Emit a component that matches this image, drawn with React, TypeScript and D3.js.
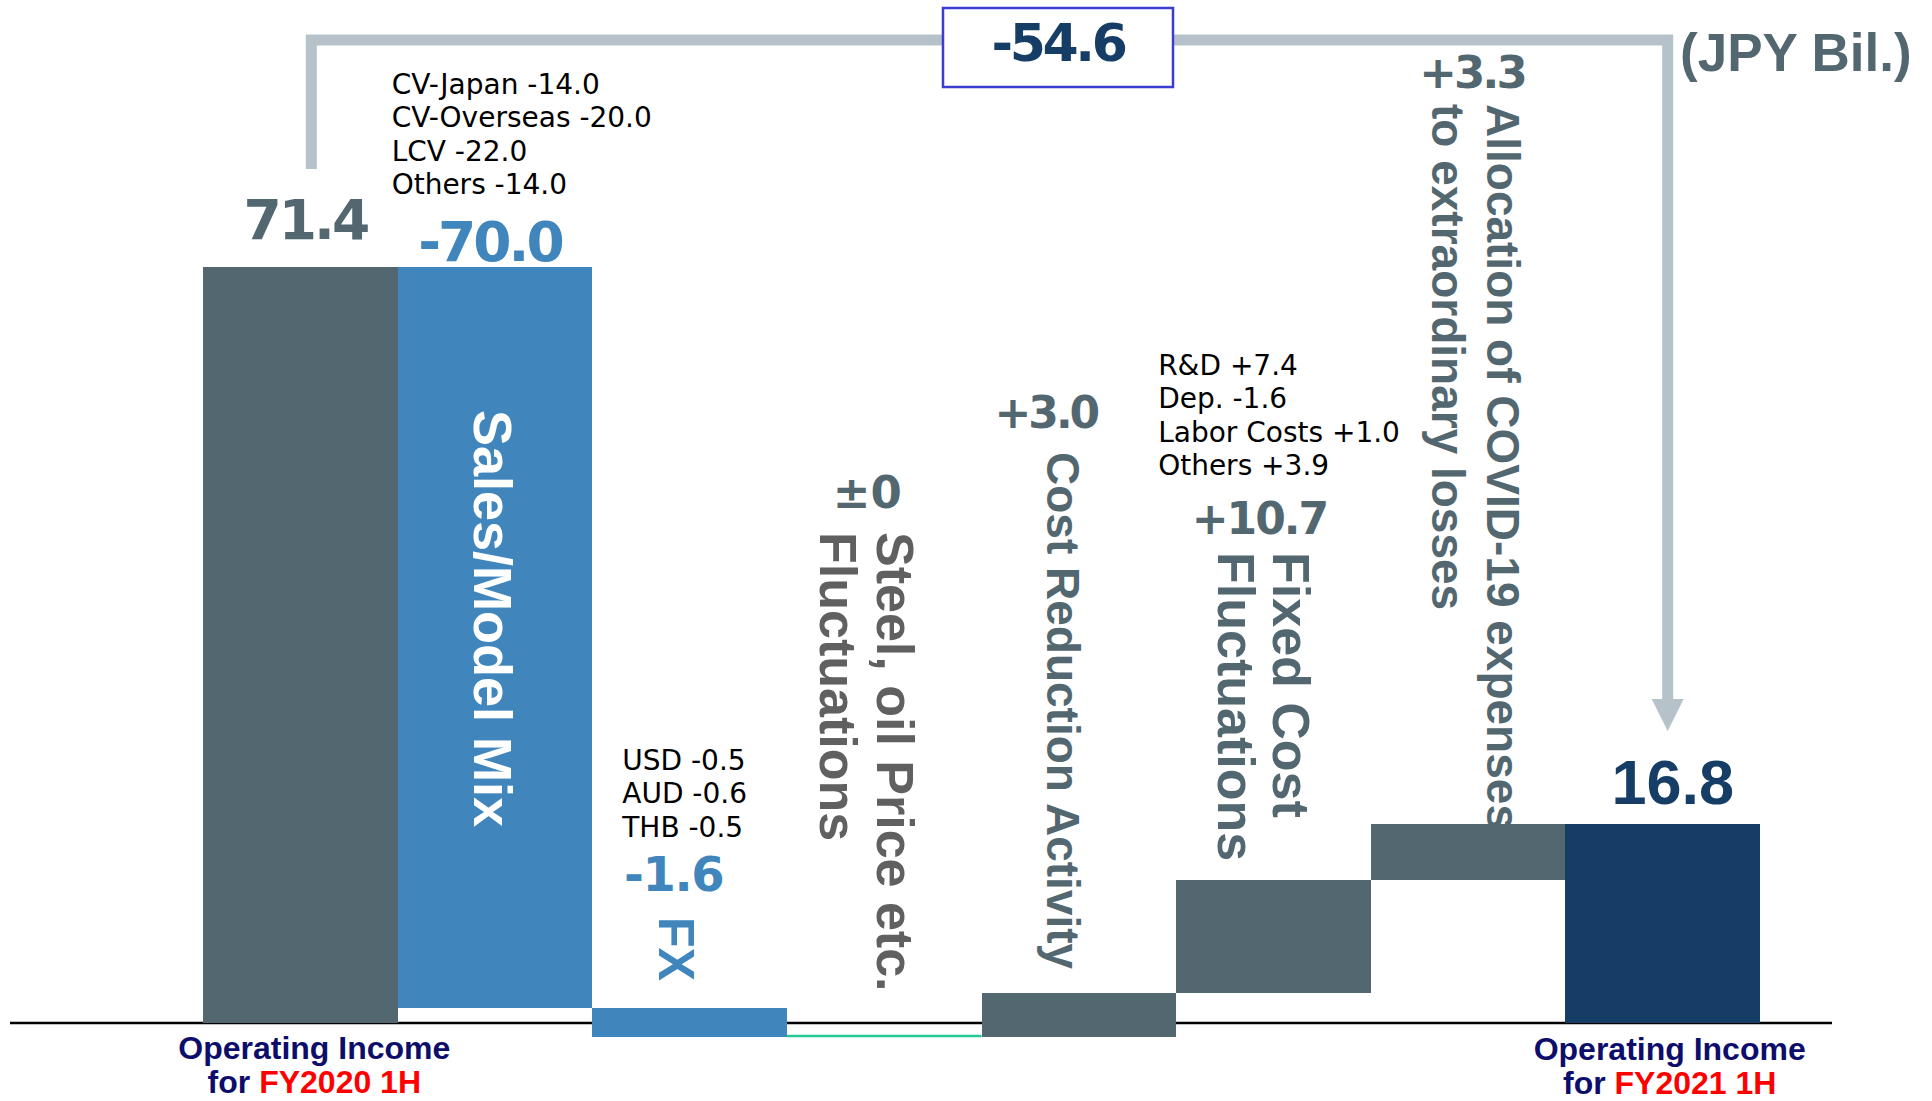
import React from "react";
import * as d3 from "d3";

// ---- data (JPY billions) ----
const categories = ["start", "salesMix", "fx", "steel", "costReduction", "fixedCost", "covid", "end"];
const stepValues = [71.4, -70.0, -1.6, 0, 3.0, 10.7, 3.3, 16.8];
const stepKinds = ["total", "delta", "delta", "delta", "delta", "delta", "delta", "total"];
const stepTitles: string[][] = [
  [],
  ["Sales/Model Mix"],
  ["FX"],
  ["Steel, oil Price etc.", "Fluctuations"],
  ["Cost Reduction Activity"],
  ["Fixed Cost", "Fluctuations"],
  ["Allocation of COVID-19 expenses", "to extraordinary losses"],
  [],
];
const periodLabels = ["FY2020 1H", "FY2021 1H"];
const periodPrefix = ["Operating Income", "for "];

const salesItems = ["CV-Japan", "CV-Overseas", "LCV", "Others"];
const salesValues = [-14.0, -20.0, -22.0, -14.0];
const fxItems = ["USD", "AUD", "THB"];
const fxValues = [-0.5, -0.6, -0.5];
const fixedItems = ["R&D", "Dep.", "Labor Costs", "Others"];
const fixedValues = [7.4, -1.6, 1.0, 3.9];

const unitLabel = "(JPY Bil.)";

// ---- styles ----
const W = 1932;
const H = 1101;
const SLATE = "#536770";
const BLUE = "#4086bc";
const NAVY = "#163d66";
const BRACKET = "#b5c2ca";
const NUM_FONT = "'DejaVu Sans', Verdana, sans-serif";
const LABEL_FONT = "'Liberation Sans', Arial, sans-serif";
const NOTE_FONT = "'DejaVu Sans', Verdana, sans-serif";

const signed = (v: number) =>
  v === 0 ? "±0" : (v > 0 ? "+" : "-") + Math.abs(v).toFixed(1);

// label placement per step (dx from band centre, baseline y)
const valueLayout = [
  { dx: 5, y: 239, size: 55, ls: -3, font: NUM_FONT },
  { dx: -5, y: 261, size: 55, ls: -3, font: NUM_FONT },
  { dx: -16, y: 891, size: 48, ls: -1.5, font: NUM_FONT },
  { dx: -17, y: 508, size: 45, ls: 0, font: NUM_FONT },
  { dx: -33, y: 428, size: 44, ls: -3, font: NUM_FONT },
  { dx: -14, y: 534, size: 44, ls: -2, font: NUM_FONT },
  { dx: 4, y: 88, size: 45, ls: -3, font: NUM_FONT },
  { dx: 10, y: 804, size: 63, ls: 0, font: LABEL_FONT },
];
const titleLayout = [
  null,
  { dx: [-21], top: 410, size: 54, color: "#ffffff" },
  { dx: [-31], top: 917, size: 50, color: BLUE },
  { dx: [-7, -64], top: 532, size: 52, color: "#606060" },
  { dx: [-32], top: 452, size: 46, color: SLATE },
  { dx: [0, -55], top: 552, size: 52, color: SLATE },
  { dx: [19, -36], top: 104, size: 46, color: SLATE },
  null,
];

export default function App() {
  // running totals for the waterfall
  let running = 0;
  const rows = categories.map((cat, i) => {
    const v = stepValues[i];
    const kind = stepKinds[i];
    if (kind === "total") {
      running = v;
      return { cat, v, kind, from: 0, to: v, i };
    }
    const from = running;
    running = +(running + v).toFixed(1);
    return { cat, v, kind, from, to: running, i };
  });

  const last = rows.length - 1;
  const startTotal = rows[0].to;
  const endTotal = rows[last].to;
  const beforeLast = rows[last - 1].from;
  const low = d3.min(rows, (r) => Math.min(r.from, r.to)) as number;

  const x = d3.scaleBand<string>().domain(categories).range([203, 1760]).padding(0);
  const bw = x.bandwidth();
  const cx = (c: string) => (x(c) as number) + bw / 2;

  // broken value scale: the band below zero and the final adjustment are enlarged
  const y = d3
    .scaleLinear()
    .domain([low, 0, beforeLast, endTotal, startTotal])
    .range([1037, 1023, 880, 824, 267]);

  const barColor = (r: any) =>
    r.kind === "total" ? (r.i === 0 ? SLATE : NAVY) : r.v < 0 ? BLUE : SLATE;

  const valueText = (r: any) => (r.kind === "total" ? r.v.toFixed(1) : signed(r.v));

  const breakdowns = [
    { cat: "salesMix", items: salesItems, values: salesValues, dx: -6, y0: 94 },
    { cat: "fx", items: fxItems, values: fxValues, dx: 30, y0: 770 },
    { cat: "fixedCost", items: fixedItems, values: fixedValues, dx: -18, y0: 375 },
  ];
  const lineStep = 33.4;

  const leftX = cx(categories[0]) + 11;
  const rightX = cx(categories[last]) + 5;
  const bracketTop = 40;
  const arrowTip = y(endTotal) - 93;
  const diff = +(endTotal - startTotal).toFixed(1);

  const boxX = 943;
  const boxW = 230;

  return (
    <svg
      width={W}
      height={H}
      viewBox={`0 0 ${W} ${H}`}
      style={{ position: "absolute", left: 0, top: 0, display: "block", background: "#fff" }}
    >
      {/* axis line */}
      <line x1={10} x2={1832} y1={y(0)} y2={y(0)} stroke="#000" strokeWidth={2.5} />

      {/* bars */}
      {rows.map((r) =>
        r.v === 0 && r.kind === "delta" ? (
          <line
            key={r.cat}
            x1={x(r.cat) as number}
            x2={(x(r.cat) as number) + bw}
            y1={y(r.from) - 1}
            y2={y(r.from) - 1}
            stroke="#22c993"
            strokeWidth={2.5}
          />
        ) : (
          <rect
            key={r.cat}
            x={x(r.cat)}
            width={bw}
            y={y(Math.max(r.from, r.to))}
            height={y(Math.min(r.from, r.to)) - y(Math.max(r.from, r.to))}
            fill={barColor(r)}
            shapeRendering="crispEdges"
          />
        )
      )}

      {/* bracket with arrow showing the total change */}
      <path
        d={`M${leftX},${y(startTotal) - 98} V${bracketTop} H${rightX} V${arrowTip - 30}`}
        fill="none"
        stroke={BRACKET}
        strokeWidth={11}
        strokeLinejoin="miter"
      />
      <path
        d={`M${rightX - 16},${arrowTip - 32} L${rightX + 16},${arrowTip - 32} L${rightX},${arrowTip} Z`}
        fill={BRACKET}
      />
      <rect x={boxX} y={8} width={boxW} height={79} fill="#fff" stroke="#3c3cd0" strokeWidth={2.5} />
      <text
        x={boxX + boxW / 2}
        y={61}
        textAnchor="middle"
        fontFamily={NUM_FONT}
        fontWeight="bold"
        fontSize={52}
        letterSpacing={-3.4}
        fill={NAVY}
      >
        {signed(diff)}
      </text>

      <text x={1680} y={71} fontFamily={LABEL_FONT} fontWeight="bold" fontSize={53} fill={SLATE}>
        {unitLabel}
      </text>

      {/* value labels */}
      {rows.map((r) => {
        const l = valueLayout[r.i];
        const col = r.kind === "total" ? barColor(r) : r.v < 0 ? BLUE : SLATE;
        return (
          <text
            key={"v" + r.cat}
            x={cx(r.cat) + l.dx}
            y={l.y}
            textAnchor="middle"
            fontFamily={l.font}
            fontWeight="bold"
            fontSize={l.size}
            letterSpacing={l.ls}
            fill={col}
          >
            {valueText(r)}
          </text>
        );
      })}

      {/* vertical step titles */}
      {rows.map((r) => {
        const t = titleLayout[r.i];
        if (!t) return null;
        return stepTitles[r.i].map((line, k) => (
          <text
            key={"t" + r.cat + k}
            transform={`translate(${cx(r.cat) + t.dx[k]},${t.top}) rotate(90)`}
            fontFamily={LABEL_FONT}
            fontWeight="bold"
            fontSize={t.size}
            fill={t.color}
          >
            {line}
          </text>
        ));
      })}

      {/* breakdown notes */}
      {breakdowns.map((b) =>
        b.items.map((name, k) => (
          <text
            key={b.cat + k}
            x={(x(b.cat) as number) + b.dx}
            y={b.y0 + k * lineStep}
            fontFamily={NOTE_FONT}
            fontSize={28}
            fill="#000"
          >
            {`${name} ${signed(b.values[k])}`}
          </text>
        ))
      )}

      {/* period labels under the totals */}
      {[0, last].map((idx, k) => {
        const c = cx(categories[idx]) + (k === 0 ? 14 : 7);
        const base = k === 0 ? 1059 : 1060;
        return (
          <g key={"p" + idx} fontFamily={LABEL_FONT} fontWeight="bold" fontSize={32} textAnchor="middle">
            <text x={c} y={base} fill="#0d0d6b">
              {periodPrefix[0]}
            </text>
            <text x={c} y={base + 34} fill="#0d0d6b">
              {periodPrefix[1]}
              <tspan fill="#ff0000">{periodLabels[k]}</tspan>
            </text>
          </g>
        );
      })}
    </svg>
  );
}
